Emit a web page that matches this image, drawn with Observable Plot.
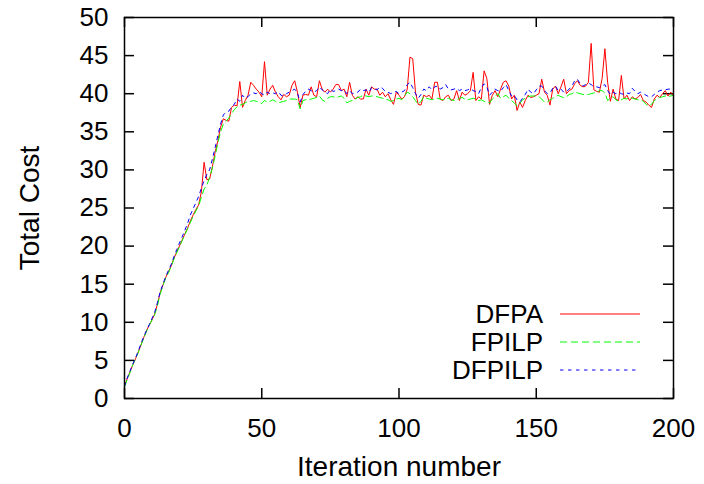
<!DOCTYPE html>
<html><head><meta charset="utf-8">
<script src="https://cdn.jsdelivr.net/npm/d3@7"></script>
<script src="https://cdn.jsdelivr.net/npm/@observablehq/plot@0.6"></script>
<style>body{margin:0;background:#fff}</style>
</head><body><div id="chart"></div>
<script>
// Iteration numbers 0..200
const iterations = d3.range(0, 201);

const dfpa = [
1.7,2.6,3.5,4.4,5.2,6.1,7.0,8.0,8.9,9.6,
10.3,11.1,12.4,13.9,14.9,15.9,16.6,17.4,18.4,19.2,
20.0,20.8,21.6,22.4,23.3,24.1,24.8,25.4,27.1,31.0,
28.7,28.8,30.4,32.3,33.8,35.6,36.7,36.5,36.4,38.2,
38.5,38.4,41.6,38.2,39.1,39.8,41.5,41.1,40.6,40.2,
39.6,44.2,39.8,40.6,41.1,40.2,39.6,39.2,39.9,39.6,
39.8,41.1,41.7,40.2,38.2,39.8,39.9,39.8,40.9,39.8,
39.6,41.7,40.6,40.2,40.6,40.2,40.6,41.2,41.2,40.4,
40.6,39.6,41.5,39.8,39.3,39.6,39.3,39.3,40.6,39.8,
40.9,40.6,40.6,39.8,40.2,39.6,40.0,39.2,38.6,40.2,
39.8,39.3,39.6,40.6,44.8,44.6,40.2,38.6,38.5,39.8,
39.6,39.8,39.3,41.5,41.5,39.3,39.1,39.6,39.8,39.1,
39.3,40.4,39.1,40.2,39.8,40.0,40.4,42.8,39.1,39.6,
39.3,43.0,42.0,38.6,39.8,40.4,39.6,40.6,41.5,41.7,
41.0,39.3,39.8,37.8,38.9,38.2,39.1,39.8,39.5,39.6,
39.8,40.0,41.9,40.2,39.8,38.5,40.6,41.0,40.0,40.9,
41.9,40.0,40.4,40.6,41.3,41.7,41.1,40.9,41.0,41.5,
46.6,40.5,40.3,40.2,42.0,45.9,41.5,39.0,40.6,39.3,
39.1,42.4,39.3,39.8,39.1,39.6,39.3,39.5,39.9,39.1,
38.9,38.5,38.2,39.3,39.8,39.5,40.0,40.4,39.7,40.2,
39.8];

const fpilp = [
1.5,2.5,3.4,4.4,5.2,6.0,7.0,7.9,8.8,9.6,
10.3,11.0,12.2,13.7,14.8,15.8,16.5,17.3,18.3,19.1,
19.9,20.7,21.5,22.3,23.1,23.9,24.6,25.3,26.4,27.5,
28.0,29.0,30.2,31.8,33.5,35.0,36.0,36.4,36.8,37.4,
37.9,38.3,38.5,38.6,38.8,39.0,39.0,39.1,39.0,38.9,
38.7,39.1,38.9,39.0,39.2,39.0,38.8,38.9,39.0,39.1,
39.3,39.3,39.3,39.2,38.0,39.1,39.2,39.2,39.3,39.4,
39.5,39.7,39.2,39.0,39.4,39.6,39.6,39.5,39.6,39.7,
39.4,38.8,39.0,39.1,39.3,39.5,39.6,39.8,39.7,39.6,
39.7,39.7,39.6,39.5,39.4,39.3,39.2,39.0,39.1,39.3,
39.4,39.2,39.7,40.2,40.0,39.6,39.1,38.6,39.0,39.6,
39.4,39.3,39.2,39.3,39.4,39.3,39.2,39.3,39.4,39.2,
39.1,39.2,39.4,39.5,39.3,39.2,39.3,39.4,39.3,39.1,
39.2,39.0,38.9,38.8,39.3,39.6,40.0,39.4,39.6,39.8,
39.4,39.1,38.8,38.4,38.7,39.2,39.4,39.6,39.7,39.7,
39.7,39.6,39.3,38.9,38.9,39.2,39.4,39.6,39.8,39.6,
39.5,39.6,39.9,40.0,40.2,40.1,40.0,39.9,39.9,39.9,
40.0,40.1,40.2,40.4,40.4,40.1,39.1,39.4,39.6,39.2,
39.0,39.2,39.4,39.3,39.5,39.4,39.3,39.2,39.2,39.0,
38.6,38.4,38.6,39.1,39.3,39.5,39.6,39.7,39.6,39.7,
39.8];

const dfpilp = [
1.6,2.7,3.6,4.5,5.3,6.2,7.2,8.1,8.9,9.7,
10.5,11.3,12.6,14.0,15.0,16.0,16.8,17.6,18.6,19.5,
20.4,21.2,22.1,23.0,24.1,24.9,25.7,26.5,27.6,28.6,
29.4,30.0,31.4,32.9,34.5,36.0,37.2,37.6,37.7,38.3,
38.6,39.3,39.0,39.8,39.4,39.6,40.0,40.1,40.0,40.3,
40.0,39.8,40.2,40.0,40.1,40.0,40.3,39.8,39.7,40.0,
40.2,40.4,40.6,40.1,38.9,39.9,40.3,40.6,40.4,40.2,
40.4,40.9,40.5,40.2,40.0,40.6,40.3,40.4,40.6,40.4,
40.5,40.0,40.4,40.0,40.1,40.2,40.6,40.4,40.5,40.2,
40.8,40.6,40.5,40.9,40.7,40.3,40.2,40.0,40.2,40.3,
40.0,40.2,40.4,41.2,41.5,40.8,40.0,39.4,39.9,40.6,
40.4,40.9,40.5,40.9,41.0,40.6,40.8,41.2,40.6,40.5,
40.6,40.7,40.4,40.6,40.4,40.5,40.7,40.4,40.3,40.0,
40.8,41.3,40.9,39.8,40.2,40.6,40.4,40.3,40.8,41.2,
40.4,39.7,39.8,39.2,38.9,39.4,39.9,40.6,40.2,40.0,
40.5,41.0,41.0,40.4,40.0,40.1,40.7,41.0,40.4,40.6,
40.2,40.3,40.6,41.0,41.7,41.9,41.3,41.0,41.2,41.4,
41.2,40.9,40.9,40.8,41.0,41.2,40.4,39.9,40.2,40.0,
40.2,40.0,39.9,40.1,40.0,40.7,40.3,40.0,40.2,40.0,
39.8,39.6,39.6,39.9,40.2,40.4,40.5,40.5,40.6,40.6,
40.5];

const seriesNames = ["DFPA", "FPILP", "DFPILP"];
const seriesValues = [dfpa, fpilp, dfpilp];
const seriesColors = ["#ff0000", "#00ff00", "#0000ff"];
const seriesDash = [null, "7,4", "3.5,4.5"];

const xTicks = [0, 50, 100, 150, 200];
const yTicks = [0, 5, 10, 15, 20, 25, 30, 35, 40, 45, 50];

const W = 704, H = 484;
const mL = 124, mR = 31, mT = 17, mB = 86;
const plotW = W - mL - mR, plotH = H - mT - mB;
const tickLen = 10;
const labelFont = 28;
const legendFont = 26;

const rows = seriesNames.flatMap((name, s) =>
  iterations.map((it, i) => ({series: name, x: it, y: seriesValues[s][i]})));

function legend(index, scales, values, dim) {
  const g = d3.create("svg:g");
  const right = dim.width - dim.marginRight;
  const bottom = dim.height - dim.marginBottom;
  seriesNames.forEach((name, i) => {
    const yy = bottom - 28 - (seriesNames.length - 1 - i) * 28;
    g.append("text")
      .attr("x", right - 130).attr("y", yy).attr("dy", "0.36em")
      .attr("text-anchor", "end").attr("fill", "black")
      .attr("font-size", legendFont)
      .text(name);
    g.append("line")
      .attr("x1", right - 113).attr("x2", right - 33)
      .attr("y1", yy).attr("y2", yy)
      .attr("stroke", seriesColors[i]).attr("stroke-width", 1)
      .attr("stroke-dasharray", seriesDash[i]);
  });
  return g.node();
}

const chart = Plot.plot({
  width: W, height: H,
  marginLeft: mL, marginRight: mR, marginTop: mT, marginBottom: mB,
  style: {fontFamily: "'Liberation Sans', Arial, sans-serif", fontSize: "26px", color: "black", background: "white"},
  x: {domain: [0, 200]},
  y: {domain: [0, 50]},
  marks: [
    Plot.axisX({ticks: xTicks, tickSize: 0, tickPadding: 20, label: null, tickFormat: d => String(d)}),
    Plot.axisY({ticks: yTicks, tickSize: 0, tickPadding: 16, label: null, tickFormat: d => String(d)}),
    Plot.tickY(yTicks, {y: d => d, insetRight: plotW - tickLen, stroke: "black", strokeWidth: 1.5}),
    Plot.tickY(yTicks, {y: d => d, insetLeft: plotW - tickLen, stroke: "black", strokeWidth: 1.5}),
    Plot.tickX(xTicks, {x: d => d, insetTop: plotH - tickLen, stroke: "black", strokeWidth: 1.5}),
    Plot.tickX(xTicks, {x: d => d, insetBottom: plotH - tickLen, stroke: "black", strokeWidth: 1.5}),
    ...seriesNames.map((name, s) =>
      Plot.line(rows.filter(r => r.series === name), {
        x: "x", y: "y", stroke: seriesColors[s], strokeWidth: 1,
        strokeDasharray: seriesDash[s], curve: "linear"
      })),
    Plot.frame({stroke: "black", strokeWidth: 1.5}),
    Plot.text(["Total Cost"], {text: d => d, frameAnchor: "left", dx: -94, rotate: -90,
      textAnchor: "middle", lineAnchor: "middle", fontSize: labelFont, fill: "black"}),
    Plot.text(["Iteration number"], {text: d => d, frameAnchor: "bottom", dy: 69,
      textAnchor: "middle", lineAnchor: "middle", fontSize: labelFont, fill: "black"}),
    legend
  ]
});
document.getElementById("chart").appendChild(chart);
</script>
</body></html>
